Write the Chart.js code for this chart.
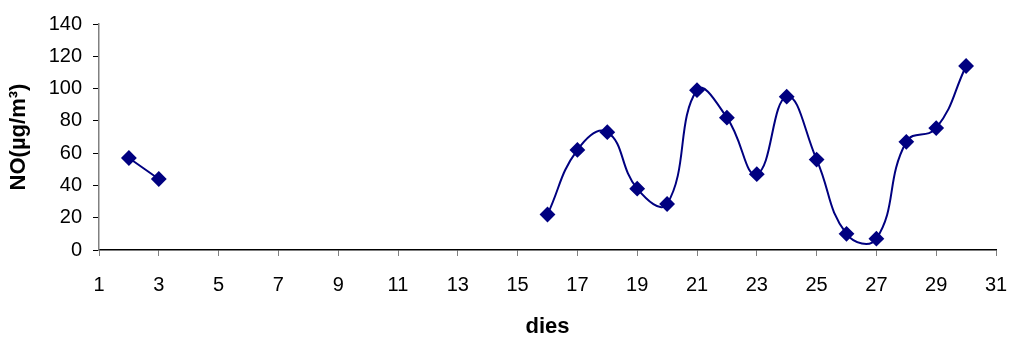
<!DOCTYPE html>
<html>
<head>
<meta charset="utf-8">
<script src="https://cdn.jsdelivr.net/npm/chart.js@4/dist/chart.umd.min.js"></script>
<style>
  html, body { margin: 0; padding: 0; background: #fff; }
  #wrap { width: 1011px; height: 338px; }
</style>
</head>
<body>
<div id="wrap"><canvas id="chart"></canvas></div>
<script>
// days of the month and NO values (µg/m³); null = no measurement
const days = [1, 2, 3, 4, 5, 6, 7, 8, 9, 10, 11, 12, 13, 14, 15, 16, 17, 18, 19, 20, 21, 22, 23, 24, 25, 26, 27, 28, 29, 30];
const noValues = [null, 57, 44, null, null, null, null, null, null, null, null, null, null, null, null,
                  22, 62, 73, 38, 28.5, 99, 82, 47, 95, 56, 10, 7, 67, 75.5, 114];

const xTitle = 'dies';
const yTitle = 'NO(µg/m³)';

const points = days.map((d, i) => ({ x: d, y: noValues[i] }));

new Chart(document.getElementById('chart'), {
    type: 'line',
    data: {
        datasets: [{
            data: points,
            borderColor: '#000080',
            backgroundColor: '#000080',
            borderWidth: 2,
            tension: 0.45,
            spanGaps: false,
            pointStyle: 'rectRot',
            pointRadius: 6.5,
            pointHoverRadius: 6.5,
            clip: false
        }]
    },
    options: {
        responsive: true,
        maintainAspectRatio: false,
        animation: false,
        layout: { padding: { top: 24, right: 15, left: 6, bottom: 0 } },
        plugins: {
            legend: { display: false },
            tooltip: { enabled: false }
        },
        scales: {
            x: {
                type: 'linear',
                min: 1,
                max: 31,
                afterFit: (scale) => {
                    scale.height = 88;
                    scale.paddingLeft = 0;
                    scale.paddingRight = 0;
                },
                ticks: {
                    stepSize: 2,
                    color: '#000',
                    font: { family: 'Liberation Sans', size: 20 },
                    padding: 17,
                    maxRotation: 0
                },
                grid: {
                    drawOnChartArea: false,
                    drawTicks: true,
                    tickLength: 6,
                    tickColor: '#808080'
                },
                border: { color: '#000', width: 1.5 },
                title: {
                    display: true,
                    text: xTitle,
                    color: '#000',
                    font: { family: 'Liberation Sans', size: 22, weight: 'bold' },
                    padding: { top: 0, bottom: -2 }
                }
            },
            y: {
                min: 0,
                max: 140,
                afterFit: (scale) => { scale.width = 93; },
                ticks: {
                    stepSize: 20,
                    color: '#000',
                    font: { family: 'Liberation Sans', size: 20 },
                    padding: 11
                },
                grid: {
                    drawOnChartArea: false,
                    drawTicks: true,
                    tickLength: 6,
                    tickColor: '#000'
                },
                border: { color: '#808080', width: 1.5 },
                title: {
                    display: true,
                    text: yTitle,
                    color: '#000',
                    font: { family: 'Liberation Sans', size: 22, weight: 'bold' },
                    padding: { top: 0, bottom: 0 }
                }
            }
        }
    }
});
</script>
</body>
</html>
